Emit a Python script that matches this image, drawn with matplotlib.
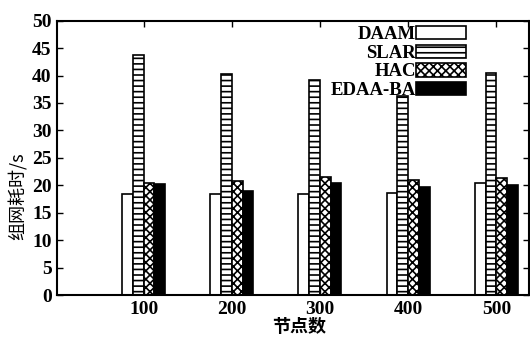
import numpy as np
import matplotlib.pyplot as plt

plt.rcParams['hatch.linewidth'] = 1.2

# data
nodes = ['100', '200', '300', '400', '500']
daam = [18.4, 18.5, 18.5, 18.6, 20.5]
slar = [43.8, 40.3, 39.2, 36.2, 40.5]
hac = [20.4, 20.7, 21.5, 20.9, 21.4]
edaa_ba = [20.2, 19.0, 20.4, 19.6, 20.1]
series_names = ['DAAM', 'SLAR', 'HAC', 'EDAA-BA']

fig = plt.figure(figsize=(5.3, 3.38), dpi=100)
ax = fig.add_axes([0.108, 0.127, 0.89, 0.812])

x = np.arange(1, len(nodes) + 1)
w = 0.122
styles = [dict(color='white', hatch=None),
          dict(color='white', hatch='---'),
          dict(color='white', hatch='xxxx'),
          dict(color='black', hatch=None)]
for i, (vals, st) in enumerate(zip([daam, slar, hac, edaa_ba], styles)):
    ax.bar(x + (i - 1.5) * w, vals, w, color=st['color'], hatch=st['hatch'],
           edgecolor='black', linewidth=1.2, label=series_names[i])

ax.set_xlim(0.02, 5.37)
ax.set_ylim(0, 50)
ax.set_xticks(x)
ax.set_xticklabels(nodes)
ax.set_yticks(range(0, 51, 5))
ax.tick_params(direction='in', top=True, right=True, length=4, width=1, pad=4)
for lab in ax.get_xticklabels() + ax.get_yticklabels():
    lab.set_fontfamily('Liberation Serif')
    lab.set_fontweight('bold')
    lab.set_fontsize(14)
for s in ax.spines.values():
    s.set_linewidth(1.5)

ax.set_ylabel('组网耗时/s', fontfamily=['Noto Sans CJK SC', 'DejaVu Sans'],
              fontsize=13)
ax.yaxis.set_label_coords(-0.062, 0.36)
ax.set_xlabel('节点数', fontfamily=['Noto Sans CJK SC', 'DejaVu Sans'],
              fontsize=13, fontweight='bold')
ax.xaxis.set_label_coords(0.513, -0.08)

leg = ax.legend(loc='upper right', bbox_to_anchor=(0.866, 0.98), frameon=False,
                markerfirst=False, handlelength=2.65, handleheight=0.72,
                labelspacing=0.07, borderpad=0.0, borderaxespad=0.0,
                handletextpad=0.0,
                prop={'family': 'Liberation Serif', 'weight': 'bold', 'size': 13.5})

fig.savefig('out.png', dpi=100)
